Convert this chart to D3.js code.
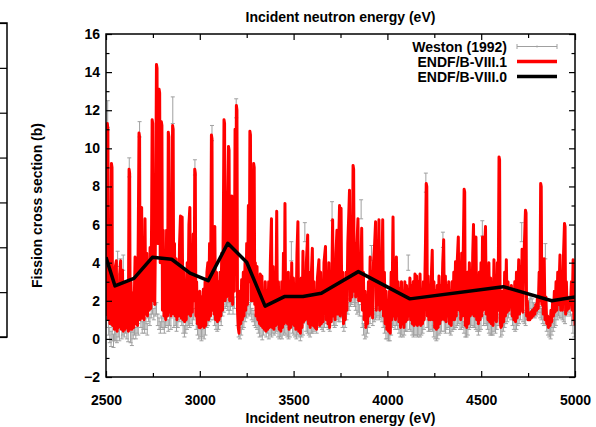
<!DOCTYPE html>
<html>
<head>
<meta charset="utf-8">
<script src="https://cdn.jsdelivr.net/npm/d3@7"></script>
<style>
body { margin: 0; background: #fff; }
svg text { font-family: 'Liberation Sans', Arial, sans-serif; font-weight: bold; }
</style>
</head>
<body>
<svg id="chart" width="596" height="427"></svg>
<script>
// ENDF/B-VIII.1 evaluated fission cross section [energy eV, barns]
const endf81 = [
  [2500,1.2],[2504,6],[2507,11.3],[2510,11.0],[2513,1.0],[2517,4.5],[2521,0.8],[2526,3.5],[2529,9.2],[2532,9.0],[2535,0.7],[2540,3.0],[2545,0.5],[2550,3.8],[2555,4.1],[2559,0.4],[2564,2.5],[2568,0.6],[2573,3.4],[2578,4.1],[2582,0.5],[2588,3.6],[2592,0.4],[2597,2.8],[2601,0.5],
  [2606,3.0],[2610,0.6],[2615,2.2],[2619,0.4],[2623,8.9],[2626,8.7],[2629,0.5],[2633,3.0],[2638,0.5],[2643,2.4],[2648,0.6],[2655,4.3],[2659,0.8],[2664,3.2],[2668,0.7],[2672,5.5],[2676,10.8],[2679,10.6],[2682,1.0],[2686,5.0],[2690,6.9],[2694,1.1],[2699,4.0],[2703,1.0],
  [2708,6.3],[2712,1.3],[2717,4.5],[2721,1.2],[2726,3.8],[2730,1.5],[2735,4.8],[2739,1.6],[2743,6.0],[2746,11.5],[2749,11.3],[2752,2.0],[2756,6.5],[2760,1.8],[2765,7.0],[2769,14.4],[2772,14.2],[2775,5.0],[2779,9.0],[2783,13.1],[2786,12.9],[2789,4.0],[2792,6.5],[2795,11.4],[2798,11.2],[2801,1.5],
  [2805,5.7],[2809,1.2],[2814,4.5],[2818,1.0],[2823,5.7],[2828,1.2],[2832,10.85],[2835,10.6],[2838,1.4],[2842,4.0],[2846,1.2],[2851,6.5],[2855,11.2],[2858,11.0],[2861,1.3],[2865,5.0],[2869,1.2],[2874,4.2],[2878,1.0],[2883,3.6],[2887,1.2],[2892,5.0],[2897,6.45],[2901,1.1],
  [2906,6.4],[2910,1.0],[2915,3.5],[2919,0.9],[2924,2.8],[2928,1.0],[2933,4.0],[2937,1.3],[2942,6.0],[2947,6.9],[2951,1.2],[2956,4.5],[2960,1.4],[2965,5.5],[2970,2.0],[2973,8.9],[2976,8.7],[2979,1.2],[2983,3.0],[2987,0.8],[2992,2.0],[2996,0.6],[3000,2.5],
  [3005,0.6],[3010,2.2],[3014,0.7],[3019,2.6],[3023,0.6],[3028,3.0],[3032,0.7],[3038,3.5],[3043,4.0],[3047,1.0],[3052,5.0],[3057,1.2],[3062,10.7],[3065,10.5],[3068,1.5],[3072,4.5],[3076,1.3],[3080,5.9],[3084,1.0],[3089,3.5],[3094,0.9],[3099,3.0],[3103,1.0],
  [3108,3.5],[3112,1.2],[3117,4.5],[3121,1.5],[3126,7.0],[3129,11.5],[3132,11.3],[3135,2.0],[3139,6.0],[3143,2.2],[3148,7.0],[3153,10.1],[3156,9.9],[3159,2.0],[3163,5.5],[3167,2.0],[3171,7.5],[3175,1.8],[3180,5.0],[3184,2.5],[3188,11.0],[3192,6.0],[3195,12.25],[3198,12.0],[3201,1.5],
  [3205,0.6],[3209,0.3],[3214,2.5],[3218,0.8],[3223,3.1],[3227,1.0],[3232,3.5],[3236,1.2],[3241,4.0],[3245,1.5],[3250,5.0],[3254,1.8],[3259,7.0],[3264,3.0],[3267,10.9],[3270,10.7],[3273,2.0],[3277,6.0],[3280,2.0],[3284,6.5],[3287,9.2],[3290,9.0],[3293,1.8],[3296,4.0],[3300,1.2],
  [3305,3.8],[3309,1.0],[3314,3.0],[3318,0.8],[3322,3.4],[3326,0.7],[3331,3.3],[3335,0.6],[3340,2.5],[3344,0.5],[3349,3.0],[3353,0.4],[3358,2.5],[3362,0.5],[3367,3.0],[3371,0.6],[3376,4.0],[3382,6.3],[3386,0.6],[3391,3.8],[3395,0.5],[3400,3.0],
  [3405,0.7],[3410,6.7],[3414,0.8],[3419,3.0],[3423,0.5],[3428,2.5],[3432,0.4],[3437,3.0],[3441,0.6],[3446,4.5],[3450,0.8],[3454,7.1],[3458,0.9],[3463,3.0],[3467,0.8],[3472,3.5],[3476,0.5],[3481,2.8],[3485,0.6],[3490,4.0],[3494,0.8],[3499,3.2],
  [3503,0.7],[3508,2.5],[3512,0.5],[3518,4.5],[3523,6.15],[3527,0.4],[3532,3.0],[3536,0.3],[3541,3.2],[3545,0.6],[3550,4.6],[3554,0.9],[3559,3.5],[3563,1.0],[3568,4.0],[3575,5.45],[3579,0.8],[3584,3.5],[3588,0.6],[3593,3.0],[3600,4.75],[3604,0.7],
  [3609,3.0],[3613,0.6],[3618,2.5],[3622,0.5],[3627,3.2],[3635,4.15],[3639,0.7],[3644,3.5],[3648,0.8],[3653,3.0],[3657,0.9],[3662,4.0],[3670,4.85],[3674,1.0],[3679,3.5],[3683,0.8],[3688,4.0],[3692,0.6],[3697,3.5],[3701,0.9],[3708,6.25],[3712,1.2],
  [3717,3.8],[3721,1.0],[3726,4.5],[3731,5.7],[3735,1.3],[3740,5.0],[3745,7.0],[3749,1.2],[3753,6.85],[3757,1.4],[3762,3.5],[3766,0.8],[3771,2.5],[3775,1.0],[3780,3.5],[3784,1.5],[3789,5.0],[3794,6.5],[3798,7.8],[3802,2.0],[3807,5.0],[3811,2.2],
  [3815,6.5],[3817,9.1],[3820,8.9],[3823,2.5],[3827,5.0],[3831,2.2],[3836,4.5],[3843,6.3],[3847,2.0],[3852,4.5],[3856,2.0],[3863,5.8],[3867,1.5],[3872,3.5],[3876,1.0],[3881,2.5],[3885,0.6],[3890,2.0],[3894,0.8],[3899,3.0],[3903,1.2],
  [3908,4.3],[3912,1.3],[3917,3.5],[3921,1.1],[3926,4.0],[3932,5.0],[3937,6.15],[3941,1.5],[3946,4.0],[3950,1.8],[3955,6.25],[3959,1.5],[3964,4.5],[3968,1.6],[3975,6.25],[3979,1.2],[3984,3.5],[3988,0.8],[3993,2.5],[3997,0.5],
  [4002,2.0],[4006,0.4],[4011,2.5],[4015,0.3],[4020,3.5],[4024,1.0],[4030,6.4],[4034,1.2],[4039,3.5],[4043,1.0],[4048,4.3],[4052,1.2],[4057,3.0],[4061,0.9],[4066,2.6],[4070,0.6],[4075,3.0],[4079,0.8],[4084,2.5],[4088,0.6],[4093,3.0],[4097,0.9],
  [4102,2.8],[4106,1.0],[4111,2.6],[4115,1.2],[4120,3.2],[4124,1.0],[4129,2.8],[4133,0.8],[4138,3.0],[4142,0.7],[4147,3.4],[4151,0.8],[4156,3.3],[4160,0.7],[4165,3.0],[4169,0.8],[4174,3.4],[4178,0.7],[4183,2.5],[4187,0.8],[4192,3.0],[4196,1.0],
  [4203,5.0],[4207,8.15],[4210,8.0],[4213,1.2],[4217,3.3],[4221,1.0],[4226,2.5],[4230,1.0],[4235,3.5],[4239,4.65],[4243,1.0],[4248,3.0],[4252,0.6],[4257,2.5],[4261,0.5],[4266,2.8],[4270,0.6],[4275,3.3],[4279,0.8],[4284,2.8],[4288,1.0],[4295,4.0],[4300,5.2],
  [4304,1.0],[4309,3.3],[4313,0.9],[4318,2.8],[4322,1.2],[4327,3.0],[4331,0.8],[4336,2.5],[4340,0.7],[4345,3.0],[4349,1.0],[4354,3.5],[4358,1.0],[4363,4.05],[4367,1.2],[4372,4.0],[4378,5.35],[4382,1.5],[4387,3.5],[4391,1.0],[4396,4.5],[4400,1.2],
  [4405,5.0],[4409,7.85],[4412,7.7],[4415,0.7],[4419,3.0],[4423,0.6],[4428,3.5],[4432,0.8],[4437,4.0],[4441,1.2],[4446,3.5],[4450,1.3],[4455,4.5],[4459,6.0],[4463,1.2],[4468,4.0],[4472,5.35],[4476,1.0],[4481,3.0],[4485,0.8],[4490,3.5],[4494,1.0],[4499,4.0],
  [4503,1.2],[4507,5.35],[4511,1.5],[4517,4.5],[4523,5.9],[4527,1.3],[4532,3.5],[4536,1.0],[4541,4.0],[4545,0.9],[4550,3.2],[4554,0.8],[4559,2.8],[4563,0.7],[4568,4.15],[4572,1.0],[4577,3.0],[4581,0.9],[4586,4.0],[4590,1.5],[4595,9.55],[4598,9.4],[4601,1.0],
  [4605,0.6],[4610,0.7],[4615,2.5],[4620,0.9],[4625,3.5],[4629,1.2],[4634,4.15],[4638,1.4],[4643,3.0],[4647,1.5],[4652,2.5],[4656,1.8],[4661,2.8],[4665,1.2],[4670,2.2],[4674,1.0],[4679,3.0],[4683,0.9],[4688,3.5],[4692,1.1],[4700,4.15],[4704,1.3],
  [4709,3.8],[4713,1.5],[4718,4.7],[4722,1.4],[4727,4.0],[4732,5.5],[4736,6.75],[4739,6.6],[4742,1.2],[4746,2.0],[4750,1.0],[4755,1.3],[4759,1.0],[4764,1.4],[4768,1.1],[4773,1.5],[4777,1.2],[4782,1.6],[4786,1.3],[4791,1.8],[4795,1.5],[4800,2.2],[4804,1.6],
  [4809,3.5],[4813,2.0],[4817,8.15],[4820,8.0],[4823,1.8],[4827,4.0],[4831,1.3],[4836,4.2],[4840,1.0],[4845,2.2],[4849,0.8],[4854,1.2],[4858,0.6],[4863,1.0],[4867,0.7],[4872,1.5],[4876,0.9],[4881,2.0],[4885,1.2],[4890,2.5],[4894,1.4],[4899,3.0],[4903,1.5],
  [4908,3.5],[4912,1.8],[4920,4.4],[4924,1.5],[4929,3.5],[4933,1.5],[4939,4.5],[4944,6.05],[4947,5.9],[4950,1.3],[4954,3.0],[4958,1.5],[4963,2.0],[4967,1.6],[4972,2.2],[4976,1.8],[4981,3.0],[4985,1.5],[4990,4.15],[4994,1.0],[4998,2.0],[5000,0.7]
]

// ENDF/B-VIII.0 (averaged, coarse)
const endf80 = [
  [2500,4.28],[2548,2.78],[2649,3.18],[2747,4.28],[2850,4.18],[2948,3.45],[3045,3.06],[3149,5.02],[3250,4.02],
  [3348,1.72],[3451,2.22],[3550,2.22],[3648,2.4],[3845,3.53],[4120,2.1],[4618,2.74],[4876,2.0],[5000,2.2]
]

// Weston (1992) measurement [energy eV, barns, uncertainty]
const weston = [
  [2503,1.0,0.4],[2509,11.8,0.7],[2514,0.6,0.4],[2520,0.2,0.4],[2527,0.0,0.4],[2533,0.3,0.4],[2540,-0.1,0.35],[2546,0.2,0.3],[2552,0.3,0.4],[2558,0.1,0.3],[2562,4.2,0.4],[2565,0.4,0.3],[2571,0.2,0.3],[2577,3.8,0.4],[2584,0.3,0.3],[2590,0.5,0.3],[2592,4.0,0.4],[2597,0.4,0.3],
  [2604,0.6,0.3],[2611,0.3,0.3],[2618,0.2,0.35],[2624,9.0,0.5],[2631,0.1,0.3],[2638,0.0,0.35],[2645,0.3,0.3],[2652,0.5,0.3],[2659,0.3,0.3],[2666,0.6,0.3],[2672,0.5,0.3],[2679,11.0,0.4],[2686,0.9,0.3],[2693,0.6,0.3],[2699,0.8,0.3],
  [2706,0.6,0.3],[2713,0.8,0.3],[2720,0.5,0.3],[2727,1.2,0.3],[2734,1.0,0.3],[2741,1.4,0.3],[2748,1.6,0.3],[2755,1.3,0.3],[2762,1.5,0.3],[2769,1.6,0.3],[2776,1.0,0.3],[2783,0.8,0.3],[2790,0.6,0.3],[2797,0.9,0.3],
  [2804,0.8,0.3],[2811,0.6,0.3],[2818,0.9,0.3],[2825,1.0,0.3],[2832,0.7,0.3],[2839,1.0,0.3],[2846,0.8,0.3],[2856,12.0,0.7],[2862,0.9,0.3],[2869,1.0,0.3],[2876,0.7,0.3],[2883,0.9,0.3],[2890,1.2,0.3],[2897,1.3,0.3],
  [2904,1.0,0.3],[2911,0.6,0.3],[2918,0.4,0.3],[2925,0.6,0.3],[2932,0.8,0.3],[2939,1.0,0.3],[2946,0.9,0.3],[2953,1.1,0.3],[2960,1.0,0.3],[2967,1.3,0.3],[2974,9.0,0.4],[2981,0.8,0.3],[2988,0.5,0.3],[2995,0.3,0.3],
  [3002,0.4,0.3],[3009,0.2,0.3],[3016,0.4,0.3],[3023,0.3,0.3],[3030,0.5,0.3],[3037,0.9,0.3],[3044,1.0,0.3],[3051,1.2,0.3],[3058,1.3,0.3],[3065,10.8,0.4],[3072,1.3,0.3],[3079,1.0,0.3],[3086,0.8,0.3],[3093,0.7,0.3],
  [3100,0.8,0.3],[3107,1.2,0.3],[3114,1.0,0.3],[3121,1.5,0.3],[3128,1.7,0.3],[3135,1.9,0.3],[3142,2.0,0.3],[3149,1.8,0.3],[3156,1.6,0.3],[3163,1.8,0.3],[3170,2.0,0.3],[3177,1.6,0.3],[3184,1.9,0.3],[3194,12.1,0.5],
  [3200,1.0,0.3],[3207,0.4,0.3],[3214,0.3,0.3],[3221,0.5,0.3],[3228,0.8,0.3],[3235,0.9,0.3],[3242,1.2,0.3],[3249,1.4,0.3],[3256,1.6,0.3],[3263,1.5,0.3],[3270,1.6,0.3],[3277,1.3,0.3],[3284,1.2,0.3],[3291,1.0,0.3],[3298,0.9,0.3],
  [3305,0.8,0.3],[3312,0.6,0.3],[3319,0.4,0.3],[3326,0.5,0.35],[3333,0.3,0.35],[3340,0.5,0.3],[3347,0.7,0.3],[3354,0.4,0.3],[3361,0.6,0.3],[3368,0.3,0.3],[3375,0.5,0.3],[3382,0.4,0.3],[3389,0.6,0.3],[3396,0.5,0.3],
  [3403,0.6,0.3],[3410,0.7,0.3],[3417,0.4,0.3],[3424,0.3,0.3],[3431,0.4,0.3],[3438,0.3,0.3],[3445,0.5,0.3],[3452,0.6,0.3],[3459,0.5,0.3],[3466,0.4,0.3],[3473,0.3,0.3],[3480,0.4,0.3],[3488,4.6,0.5],[3494,0.6,0.3],
  [3501,0.5,0.3],[3508,0.4,0.3],[3515,0.3,0.3],[3522,0.5,0.3],[3529,0.4,0.3],[3536,0.2,0.3],[3543,0.4,0.3],[3550,0.5,0.3],[3560,5.6,0.5],[3567,0.7,0.3],[3574,0.6,0.3],[3581,0.5,0.3],[3588,0.4,0.3],[3595,0.6,0.3],
  [3602,0.6,0.3],[3609,0.7,0.3],[3616,0.8,0.3],[3623,0.6,0.3],[3630,0.9,0.3],[3637,1.0,0.3],[3644,0.9,0.3],[3651,0.8,0.3],[3658,0.7,0.3],[3665,0.9,0.3],[3672,1.1,0.3],[3679,0.9,0.3],[3686,0.8,0.3],[3693,0.7,0.3],
  [3705,6.7,0.5],[3712,1.0,0.3],[3719,0.9,0.3],[3726,1.0,0.3],[3733,1.3,0.3],[3740,1.2,0.3],[3747,1.2,0.3],[3754,1.4,0.3],[3761,0.9,0.3],[3768,0.7,0.3],[3775,0.9,0.3],[3782,1.3,0.3],[3789,1.6,0.3],[3796,1.8,0.3],
  [3803,2.0,0.3],[3810,2.1,0.3],[3817,2.2,0.3],[3824,2.0,0.3],[3831,1.8,0.3],[3838,1.6,0.3],[3845,1.7,0.3],[3852,1.5,0.3],[3860,6.8,0.5],[3866,0.9,0.3],[3873,0.5,0.3],[3880,0.3,0.3],[3887,0.4,0.3],[3894,0.6,0.3],
  [3901,0.9,0.3],[3908,1.1,0.3],[3915,4.5,0.4],[3922,1.0,0.3],[3929,1.2,0.3],[3936,1.3,0.3],[3943,1.4,0.3],[3950,1.5,0.3],[3957,1.3,0.3],[3964,1.4,0.3],[3971,1.2,0.3],[3978,0.9,0.3],[3985,0.6,0.3],[3992,0.3,0.3],
  [3999,0.3,0.3],[4006,0.2,0.3],[4013,0.2,0.3],[4020,0.5,0.3],[4027,0.9,0.3],[4034,1.0,0.3],[4041,0.8,0.3],[4048,1.0,0.3],[4055,0.8,0.3],[4062,0.6,0.3],[4069,0.4,0.3],[4076,0.5,0.3],[4083,0.4,0.3],[4090,0.5,0.3],[4097,0.7,0.3],
  [4104,0.7,0.3],[4111,4.0,0.4],[4118,0.8,0.3],[4125,0.7,0.3],[4132,0.5,0.3],[4139,0.4,0.3],[4146,0.5,0.3],[4153,0.5,0.3],[4160,0.4,0.3],[4167,0.5,0.3],[4174,0.4,0.3],[4181,0.5,0.3],[4188,0.6,0.3],[4195,0.8,0.3],
  [4205,8.2,0.5],[4212,0.9,0.3],[4219,0.7,0.3],[4226,0.7,0.3],[4233,0.8,0.3],[4240,0.7,0.3],[4247,0.4,0.3],[4254,0.3,0.3],[4261,0.2,0.3],[4268,0.3,0.3],[4275,0.5,0.3],[4282,0.6,0.3],[4289,0.7,0.3],[4296,5.2,0.4],
  [4303,0.7,0.3],[4310,0.6,0.3],[4317,0.8,0.3],[4324,0.9,0.3],[4331,0.6,0.3],[4338,0.5,0.3],[4345,0.7,0.3],[4352,0.8,0.3],[4359,0.8,0.3],[4366,0.9,0.3],[4373,1.0,0.3],[4380,1.1,0.3],[4387,0.8,0.3],[4394,0.8,0.3],
  [4401,0.9,0.3],[4408,0.6,0.3],[4415,0.4,0.3],[4422,0.4,0.3],[4429,0.5,0.3],[4436,0.8,0.3],[4443,0.9,0.3],[4450,1.0,0.3],[4457,0.9,0.3],[4464,0.9,0.3],[4471,0.8,0.3],[4478,0.7,0.3],[4485,0.5,0.3],[4492,0.7,0.3],
  [4499,0.8,0.3],[4506,5.8,0.4],[4513,1.0,0.3],[4520,1.1,0.3],[4527,1.0,0.3],[4534,0.8,0.3],[4541,0.6,0.3],[4548,0.5,0.3],[4555,0.5,0.3],[4562,0.5,0.3],[4569,0.7,0.3],[4576,0.6,0.3],[4583,0.8,0.3],[4590,1.0,0.3],
  [4604,0.4,0.3],[4611,0.5,0.3],[4618,0.7,0.3],[4625,0.9,0.3],[4632,1.1,0.3],[4639,1.2,0.3],[4646,1.4,0.3],[4653,1.6,0.3],[4660,1.3,0.3],[4667,1.0,0.3],[4674,0.8,0.3],[4681,0.7,0.3],[4688,0.8,0.3],[4695,1.0,0.3],
  [4702,1.1,0.3],[4709,1.3,0.3],[4716,5.6,0.5],[4723,1.2,0.3],[4730,1.1,0.3],[4737,1.0,0.3],[4744,1.3,0.3],[4751,1.6,0.3],[4758,1.8,0.3],[4765,1.9,0.3],[4772,1.8,0.3],[4779,1.6,0.3],[4786,1.4,0.3],[4793,1.5,0.3],
  [4800,1.6,0.3],[4807,1.7,0.3],[4814,1.4,0.3],[4821,1.3,0.3],[4828,1.1,0.3],[4835,1.0,0.3],[4842,4.6,0.4],[4849,0.7,0.3],[4856,0.5,0.3],[4863,0.4,0.3],[4870,0.3,0.3],[4877,0.5,0.3],[4884,0.7,0.3],[4891,0.9,0.3],
  [4898,1.0,0.3],[4905,1.3,0.3],[4912,1.5,0.3],[4919,1.4,0.3],[4926,1.4,0.3],[4933,1.3,0.3],[4940,1.2,0.3],[4947,1.1,0.3],[4954,1.5,0.3],[4961,1.6,0.3],[4968,1.7,0.3],[4975,1.5,0.3],[4982,1.0,0.3],[4989,0.6,0.3],[4996,0.4,0.3]
]

const xMajor = [2500, 3000, 3500, 4000, 4500, 5000]
const xMinor = [2750, 3250, 3750, 4250, 4750]
const yMajor = [-2, 0, 2, 4, 6, 8, 10, 12, 14, 16]
const yMinor = [-1, 1, 3, 5, 7, 9, 11, 13, 15]
const legendLabels = ['Weston (1992)', 'ENDF/B-VIII.1', 'ENDF/B-VIII.0']

const svg = d3.select('#chart')
const margin = {top: 34, right: 21, bottom: 50, left: 106}
const width = 596 - margin.left - margin.right
const height = 427 - margin.top - margin.bottom

const xScale = d3.scaleLinear().domain([2500, 5000]).range([0, width])
const yScale = d3.scaleLinear().domain([-2, 16]).range([height, 0])

// piece of the neighbouring panel's right axis, cut off at the left edge
const yStub = d3.scaleLinear().domain([0, 7]).range([337, 23])
const stub = svg.append('g').attr('transform', 'translate(7,0)')
    .call(d3.axisLeft(yStub).tickValues(d3.range(0, 8)).tickSize(7).tickFormat(''))
stub.select('.domain').remove()
stub.selectAll('line').attr('stroke', '#000').attr('stroke-width', 1.2)
svg.append('path').attr('d', 'M0,23H7V337H0').attr('fill', 'none').attr('stroke', '#000').attr('stroke-width', 1.5)

const g = svg.append('g').attr('transform', `translate(${margin.left},${margin.top})`)

g.append('clipPath').attr('id', 'clip')
    .append('rect').attr('width', width).attr('height', height)

const plot = g.append('g').attr('clip-path', 'url(#clip)')

// Weston error bars
const bars = plot.append('g').attr('stroke', '#a0a0a0').attr('stroke-width', 1)
bars.selectAll('path').data(weston).enter().append('path')
    .attr('fill', 'none')
    .attr('d', d => {
        const x = xScale(d[0]), y0 = yScale(d[1] - d[2]), y1 = yScale(d[1] + d[2])
        return `M${x},${y0}V${y1}M${x - 2},${y0}H${x + 2}M${x - 2},${y1}H${x + 2}`
    })

const line = d3.line().x(d => xScale(d[0])).y(d => yScale(d[1]))

plot.append('path').datum(endf81)
    .attr('d', line)
    .attr('fill', 'none')
    .attr('stroke', '#ff0000')
    .attr('stroke-width', 3)
    .attr('stroke-linejoin', 'round')

plot.append('path').datum(endf80)
    .attr('d', line)
    .attr('fill', 'none')
    .attr('stroke', '#000')
    .attr('stroke-width', 3.5)
    .attr('stroke-linejoin', 'round')

// axes, gnuplot style: inward ticks mirrored on all sides
function styleAxis(sel) {
    sel.select('.domain').remove()
    sel.selectAll('line').attr('stroke', '#000').attr('stroke-width', 1.2)
    sel.selectAll('text').attr('fill', '#000').style('font-size', '14px')
}

g.append('g').attr('transform', `translate(0,${height})`)
    .call(d3.axisBottom(xScale).tickValues(xMajor).tickSize(-6).tickPadding(18).tickFormat(d3.format('d')))
    .call(styleAxis)
g.append('g').attr('transform', `translate(0,${height})`)
    .call(d3.axisBottom(xScale).tickValues(xMinor).tickSize(-4).tickFormat(''))
    .call(styleAxis)
g.append('g')
    .call(d3.axisTop(xScale).tickValues(xMajor).tickSize(-6).tickFormat(''))
    .call(styleAxis)
g.append('g')
    .call(d3.axisTop(xScale).tickValues(xMinor).tickSize(-4).tickFormat(''))
    .call(styleAxis)

g.append('g')
    .call(d3.axisLeft(yScale).tickValues(yMajor).tickSize(-6).tickPadding(6).tickFormat(d3.format('d')))
    .call(styleAxis)
g.append('g')
    .call(d3.axisLeft(yScale).tickValues(yMinor).tickSize(-3.5).tickFormat(''))
    .call(styleAxis)
g.append('g').attr('transform', `translate(${width},0)`)
    .call(d3.axisRight(yScale).tickValues(yMajor).tickSize(-6).tickFormat(''))
    .call(styleAxis)
g.append('g').attr('transform', `translate(${width},0)`)
    .call(d3.axisRight(yScale).tickValues(yMinor).tickSize(-3.5).tickFormat(''))
    .call(styleAxis)

g.append('rect')
    .attr('width', width).attr('height', height)
    .attr('fill', 'none').attr('stroke', '#000').attr('stroke-width', 1.5)

// axis titles
svg.append('text').attr('x', margin.left + width / 2).attr('y', 22)
    .attr('text-anchor', 'middle').style('font-size', '14px').text('Incident neutron energy (eV)')
svg.append('text').attr('x', margin.left + width / 2).attr('y', 423)
    .attr('text-anchor', 'middle').style('font-size', '14px').text('Incident neutron energy (eV)')
svg.append('text').attr('transform', `translate(42,${margin.top + height / 2}) rotate(-90)`)
    .attr('text-anchor', 'middle').style('font-size', '14px').text('Fission cross section (b)')

// legend
const legend = svg.append('g')
legendLabels.forEach((label, i) => {
    const y = 51.5 + i * 15
    legend.append('text').attr('x', 507).attr('y', y)
        .attr('text-anchor', 'end').style('font-size', '14px').text(label)
    const ly = y - 5
    if (i === 0) {
        legend.append('path')
            .attr('d', `M517,${ly}H557M517,${ly - 2.5}V${ly + 2.5}M557,${ly - 2.5}V${ly + 2.5}M537,${ly - 1}V${ly + 1}`)
            .attr('fill', 'none').attr('stroke', '#a0a0a0').attr('stroke-width', 1)
    } else {
        legend.append('line').attr('x1', 517).attr('x2', 557).attr('y1', ly).attr('y2', ly)
            .attr('stroke', i === 1 ? '#ff0000' : '#000').attr('stroke-width', 3.5)
    }
})
</script>
</body>
</html>
